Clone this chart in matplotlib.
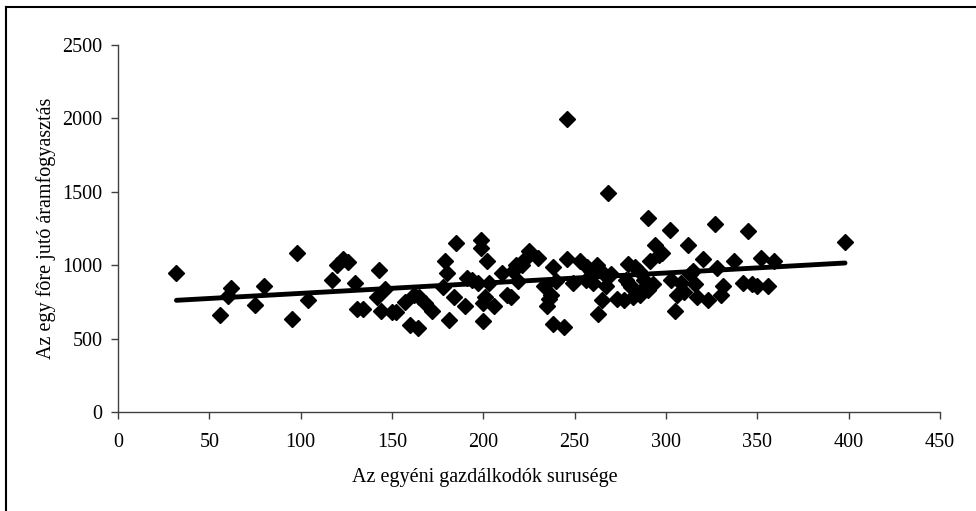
import matplotlib.pyplot as plt
import numpy as np
from matplotlib.lines import Line2D

# population density of individual farmers vs per-capita electricity use
density = [32, 56, 60, 62, 75, 80, 95, 98, 104, 117, 120, 123, 126, 130, 131, 134,
           142, 143, 144, 146, 150, 152, 157, 160, 162, 164, 165, 168, 172, 178, 179,
           180, 181, 184, 185, 190, 191, 194, 197, 199, 199, 200, 200, 201, 202, 203,
           206, 210, 213, 215, 216, 218, 219, 221, 223, 225, 230, 233, 235, 236, 237,
           238, 238, 240, 244, 246, 246, 249, 253, 256, 257, 259, 260, 262, 263, 265,
           266, 267, 268, 270, 273, 277, 278, 279, 280, 281, 282, 283, 284, 285, 286,
           288, 289, 290, 290, 291, 293, 294, 296, 298, 302, 303, 305, 306, 308, 310,
           312, 313, 315, 316, 317, 320, 323, 327, 328, 330, 331, 337, 342, 345, 347,
           350, 352, 356, 359, 398]
consumption = [945, 660, 790, 845, 730, 860, 635, 1080, 760, 900, 1000, 1040, 1020, 880, 700, 700,
               780, 965, 690, 840, 680, 680, 750, 590, 800, 570, 780, 740, 690, 850, 1030,
               950, 630, 780, 1150, 720, 910, 900, 880, 1120, 1175, 740, 620, 780, 1030, 880,
               720, 950, 800, 780, 960, 1000, 890, 1000, 1040, 1100, 1050, 860, 720, 770, 800,
               990, 600, 890, 580, 1995, 1040, 880, 1030, 900, 990, 960, 880, 1000, 670, 760,
               940, 860, 1495, 940, 770, 760, 900, 1010, 870, 850, 780, 990, 820, 960, 800,
               900, 860, 1320, 830, 1030, 870, 1140, 1070, 1080, 1240, 900, 690, 800, 880, 820,
               1140, 940, 960, 870, 780, 1040, 760, 1280, 980, 800, 860, 1030, 880, 1235, 870,
               860, 1050, 860, 1030, 1155]

plt.rcParams['font.family'] = ['Liberation Serif', 'DejaVu Serif']

fig = plt.figure(figsize=(9.76, 5.11), dpi=100)
ax = fig.add_axes([0.1209, 0.1937, 0.8422, 0.7183])

ax.plot(density, consumption, 'D', color='black', markersize=8.5, linestyle='none')

# linear trend line
slope, intercept = np.polyfit(density, consumption, 1)
xs = np.array([min(density), max(density)])
ax.plot(xs, slope * xs + intercept, color='black', linewidth=3.5, solid_capstyle='round')

ax.set_xlim(0, 450)
ax.set_ylim(0, 2500)
ax.set_xticks(list(range(0, 451, 50)))
ax.set_yticks(list(range(0, 2501, 500)))
ax.spines['top'].set_visible(False)
ax.spines['right'].set_visible(False)
for side in ['left', 'bottom']:
    ax.spines[side].set_color('#404040')
    ax.spines[side].set_linewidth(1)
ax.tick_params(direction='out', length=5, width=1, color='#404040', labelsize=14.5)
ax.tick_params(axis='x', pad=10)
ax.tick_params(axis='y', pad=6)

ax.set_xlabel('Az egyéni gazdálkodók surusége', fontsize=14.5)
ax.xaxis.set_label_coords(0.446, -0.152)
ax.set_ylabel('Az egy fôre jutó áramfogyasztás', fontsize=14.5, labelpad=5)

# outer frame, only top and left edges fall inside the picture
fig.add_artist(Line2D([6 / 976, 6 / 976], [0, 1 - 7 / 511], transform=fig.transFigure,
                      color='black', linewidth=1.5))
fig.add_artist(Line2D([6 / 976, 1], [1 - 7 / 511, 1 - 7 / 511], transform=fig.transFigure,
                      color='black', linewidth=1.5))

fig.savefig('out.png', dpi=100)
